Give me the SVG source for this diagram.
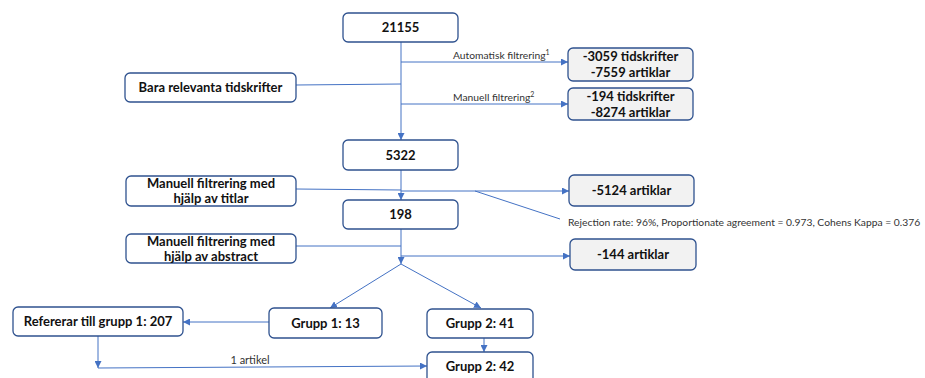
<svg xmlns="http://www.w3.org/2000/svg" width="925" height="378" viewBox="0 0 925 378">
<defs>
<marker id="ah" viewBox="0 0 10 10" refX="10" refY="5" markerWidth="7" markerHeight="7" markerUnits="userSpaceOnUse" orient="auto">
<path d="M0,0 L10,5 L0,10 z" fill="#4472C4"/>
</marker>
<style>
.box{fill:#ffffff;stroke:#2F528F;stroke-width:1.3}
.gbox{fill:#F2F2F2;stroke:#2F528F;stroke-width:1.3}
.t{font-family:Lato,"Liberation Sans",sans-serif;font-weight:bold;font-size:13px;fill:#111;text-anchor:middle}
.s{font-family:Lato,"Liberation Sans",sans-serif;font-size:10.3px;fill:#333}
.c{stroke:#4472C4;stroke-width:1;fill:none}
.a{marker-end:url(#ah)}
</style>
</defs>
<rect width="925" height="378" fill="#ffffff"/>
<g id="connectors">
<path class="c a" d="M401,42 V140"/>
<path class="c a" d="M401,62 H568"/>
<path class="c a" d="M401,104 H568"/>
<path class="c" d="M296,85 L401,84"/>
<path class="c a" d="M401,170 V200"/>
<path class="c" d="M296,189 L401,190"/>
<path class="c a" d="M401,191 H569"/>
<path class="c" d="M475,191 L560,219"/>
<path class="c a" d="M401,229 V264"/>
<path class="c" d="M296,246 H401"/>
<path class="c a" d="M401,256 H570"/>
<path class="c a" d="M401,264 L330,308"/>
<path class="c a" d="M401,264 L481,308"/>
<path class="c a" d="M269,322 H183"/>
<path class="c a" d="M484,338 V352"/>
<path class="c a" d="M98,336 V368"/>
<path class="c a" d="M98,368 L427,366"/>
</g>
<g id="n21155"><rect class="box" x="343" y="13" width="115" height="29" rx="5"/><text class="t" x="400.5" y="32">21155</text></g>
<g id="nAuto"><rect class="gbox" x="568" y="48" width="125" height="33" rx="5"/><text class="t" x="630.5" y="61">-3059 tidskrifter</text><text class="t" x="630.5" y="77">-7559 artiklar</text></g>
<g id="nMan"><rect class="gbox" x="568" y="88" width="125" height="32" rx="5"/><text class="t" x="630.5" y="101">-194 tidskrifter</text><text class="t" x="630.5" y="117">-8274 artiklar</text></g>
<g id="lblAuto"><text class="s" x="453" y="59">Automatisk filtrering<tspan style="font-size:7px" dy="-4">1</tspan></text></g>
<g id="lblMan"><text class="s" x="453" y="101">Manuell filtrering<tspan style="font-size:7px" dy="-4">2</tspan></text></g>
<g id="nBara"><rect class="box" x="125" y="73" width="171" height="29" rx="5"/><text class="t" x="210.5" y="92">Bara relevanta tidskrifter</text></g>
<g id="n5322"><rect class="box" x="343" y="140" width="115" height="30" rx="5"/><text class="t" x="400.5" y="160">5322</text></g>
<g id="nTitlar"><rect class="box" x="126" y="176" width="170" height="30" rx="5"/><text class="t" x="211" y="188">Manuell filtrering med</text><text class="t" x="211" y="203">hjälp  av titlar</text></g>
<g id="n5124"><rect class="gbox" x="569" y="175" width="125" height="31" rx="5"/><text class="t" x="631.5" y="195">-5124 artiklar</text></g>
<g id="lblRej"><text class="s" x="568" y="226">Rejection rate: 96%, Proportionate agreement = 0.973, Cohens Kappa = 0.376</text></g>
<g id="n198"><rect class="box" x="343" y="200" width="115" height="29" rx="5"/><text class="t" x="400.5" y="219">198</text></g>
<g id="nAbstract"><rect class="box" x="126" y="234" width="170" height="29" rx="5"/><text class="t" x="211" y="246">Manuell filtrering med</text><text class="t" x="211" y="261">hjälp  av abstract</text></g>
<g id="n144"><rect class="gbox" x="570" y="239" width="126" height="31" rx="5"/><text class="t" x="633" y="259">-144 artiklar</text></g>
<g id="nRef"><rect class="box" x="13" y="307" width="170" height="29" rx="5"/><text class="t" x="98" y="326">Refererar till grupp 1: 207</text></g>
<g id="nG1"><rect class="box" x="269" y="308" width="113" height="30" rx="5"/><text class="t" x="325.5" y="328">Grupp 1: 13</text></g>
<g id="nG2"><rect class="box" x="427" y="309" width="106" height="29" rx="5"/><text class="t" x="480" y="328">Grupp 2: 41</text></g>
<g id="nG42"><rect class="box" x="427" y="352" width="106" height="32" rx="5"/><text class="t" x="480" y="371">Grupp 2: 42</text></g>
<g id="lbl1art"><text class="s" x="250" y="364" style="font-size:11px;text-anchor:middle">1 artikel</text></g>
</svg>
